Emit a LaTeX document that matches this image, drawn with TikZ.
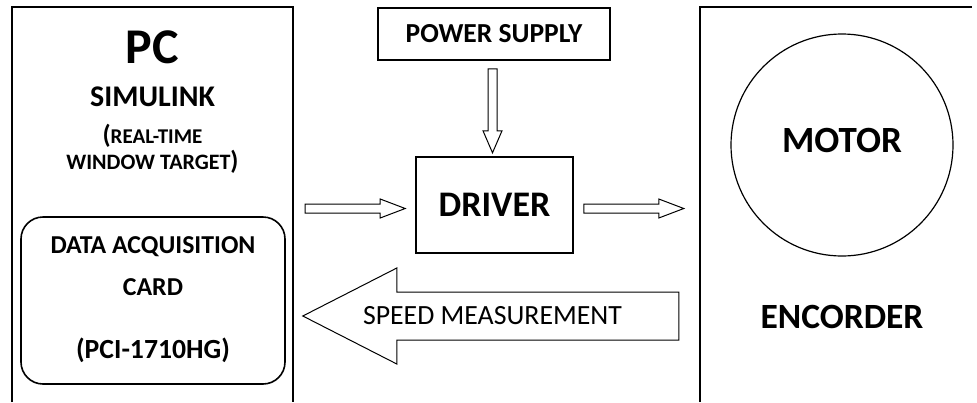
\documentclass[tikz,border=0pt]{standalone}
\usepackage{fontspec}
\setmainfont{Carlito}
\usetikzlibrary{calc}

\tikzset{
  frame/.style={line width=1.8pt},
  label/.style={font=\bfseries, inner sep=0pt, anchor=center},
  boxnode/.style={draw, line width=1.6pt, inner sep=0pt},
  % hollow block arrow pointing along +x from the pic origin:
  % total length / half shaft width / half head width / head length
  pics/blockarrow/.style args={#1/#2/#3/#4}{code={
    \draw[line width=1pt, line join=miter]
      (0,-#2) -- ({#1-#4},-#2) -- ({#1-#4},-#3) -- (#1,0)
      -- ({#1-#4},#3) -- ({#1-#4},#2) -- (0,#2) -- cycle;
  }},
}

\begin{document}
\begin{tikzpicture}[x=1pt, y=-1pt]
\useasboundingbox (0,0) rectangle (977,402);

% ---------- PC side (box open at the bottom) ----------
\node[minimum width=281pt, minimum height=395pt, inner sep=0pt] (pc) at (152.5,204.5) {};
\draw[frame] (pc.south west) |- (pc.north east) -- (pc.south east);

\node[label, font=\bfseries\fontsize{50}{50}\selectfont] (pctitle) at (152.5,47) {PC};
\node[label, font=\bfseries\fontsize{30}{30}\selectfont] (simulink) at (152.5,97) {SIMULINK};
\node[label] (rtw1) at (152.5,136) {\fontsize{26}{26}\selectfont(\fontsize{21}{21}\selectfont REAL-TIME};
\node[label] (rtw2) at (152.5,162) {\fontsize{22}{22}\selectfont WINDOW TARGET\fontsize{26}{26}\selectfont)};

% data acquisition card
\node[draw, line width=1.6pt, rounded corners=22pt, minimum width=264pt,
      minimum height=167pt, inner sep=0pt] (daq) at (153,300.5) {};
\node[label, font=\bfseries\fontsize{25.8}{26}\selectfont] (daq1) at (153,247) {DATA ACQUISITION};
\node[label, font=\bfseries\fontsize{25.8}{26}\selectfont] (daq2) at (153,287) {CARD};
\node[label, font=\bfseries\fontsize{27.7}{28}\selectfont] (daq3) at (153,350) {(PCI-1710HG)};

% ---------- middle blocks ----------
\node[boxnode, minimum width=232pt, minimum height=52pt,
      font=\bfseries\fontsize{27.5}{28}\selectfont] (ps) at (494,34) {POWER SUPPLY};
\node[boxnode, minimum width=157pt, minimum height=96pt,
      font=\bfseries\fontsize{36}{36}\selectfont] (driver) at (494.5,205) {DRIVER};

% ---------- motor side (box open at the bottom and right) ----------
\node[minimum width=272pt, minimum height=395pt, inner sep=0pt] (dev) at (836,204.5) {};
\draw[frame] (dev.south west) |- (dev.north east);

\node[circle, draw, line width=1.2pt, minimum size=222pt, inner sep=0pt] (motor) at (842,145) {};
\node[label, font=\bfseries\fontsize{37}{37}\selectfont] (motortext) at (842,140) {MOTOR};
\node[label, font=\bfseries\fontsize{35.5}{36}\selectfont] (encoder) at (842,317) {ENCORDER};

% ---------- hollow block arrows ----------
\coordinate (psdrvtail) at ($(ps.south)+(-1.5,8)$);
\coordinate (pcdrvtail) at ($(pc.east|-driver.center)+(12,3.5)$);
\coordinate (drvmottail) at ($(driver.east)+(10,3.5)$);
\coordinate (speedtail) at ($(dev.west|-daq.center)+(-21,15.5)$);

\pic[rotate=-90] at (psdrvtail) {blockarrow=84/4.5/9.5/22};
\pic at (pcdrvtail) {blockarrow=100/4.5/9.5/25};
\pic at (drvmottail) {blockarrow=100/4.5/9.5/25};
\pic[rotate=180] at (speedtail) {blockarrow=376/24/48/94};
\node[inner sep=0pt, font=\fontsize{27.8}{28}\selectfont] (speedtext) at (492.5,316) {SPEED MEASUREMENT};

\end{tikzpicture}
\end{document}
